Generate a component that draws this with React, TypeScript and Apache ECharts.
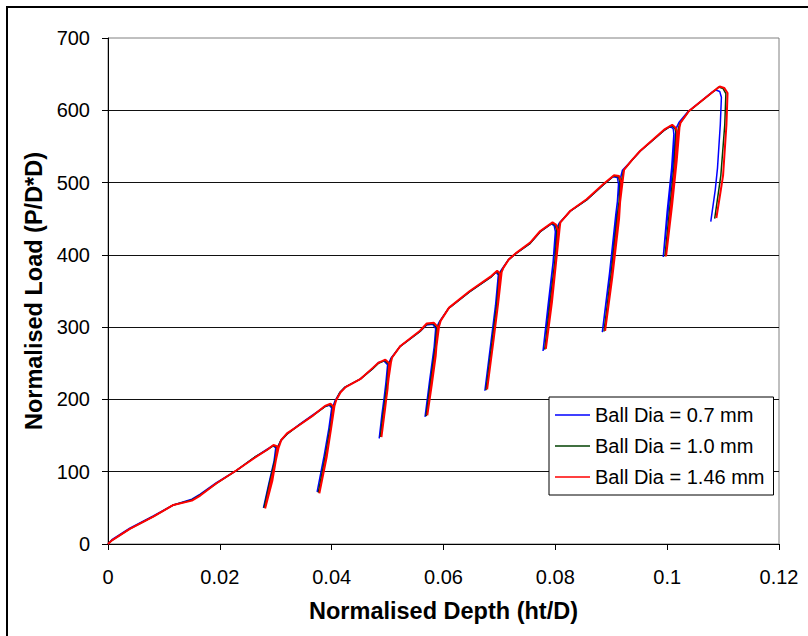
import React, { useEffect, useRef } from "react";
import * as echarts from "echarts";

// Normalised depth (ht/D) vs normalised load (P/D*D) for three ball diameters,
// with repeated partial unloading / reloading cycles.
const ball07: number[][] = [
  [0, 0], [0.0007, 6], [0.0039, 22], [0.0081, 39], [0.0117, 54], [0.015, 62], [0.0165, 69], [0.0194, 85], [0.023, 102], [0.0262, 120], [0.0284, 131], [0.0295, 136], [0.03, 133],
  [0.0297, 115], [0.029, 88], [0.0278, 50],
  [0.0288, 85], [0.0297, 115], [0.0302, 132],
  [0.0309, 143], [0.032, 152], [0.0343, 166], [0.0367, 179], [0.0388, 190], [0.0396, 192], [0.04, 188],
  [0.0395, 160], [0.0386, 120], [0.0374, 72],
  [0.0385, 115], [0.0395, 160], [0.0402, 190],
  [0.0406, 198], [0.0415, 210], [0.0424, 217], [0.0451, 228], [0.0474, 243], [0.0484, 251], [0.0494, 253], [0.05, 248],
  [0.0496, 215], [0.049, 180], [0.0485, 146],
  [0.0492, 190], [0.0498, 230], [0.0502, 250],
  [0.0506, 257], [0.0522, 273], [0.0558, 294], [0.057, 303], [0.0581, 304], [0.0586, 298],
  [0.0582, 260], [0.0575, 220], [0.0567, 176],
  [0.0575, 225], [0.0582, 265], [0.0588, 300],
  [0.0593, 308], [0.0609, 326], [0.0647, 349], [0.0686, 370], [0.0694, 376], [0.0698, 372],
  [0.0693, 330], [0.0685, 280], [0.0674, 212],
  [0.0686, 285], [0.0694, 335], [0.07, 375],
  [0.0705, 381], [0.0716, 393], [0.0728, 401], [0.0755, 416], [0.0773, 432], [0.0793, 443], [0.0798, 440], [0.08, 432],
  [0.0796, 390], [0.0787, 330], [0.0778, 267],
  [0.0789, 335], [0.0797, 395], [0.0803, 438],
  [0.0807, 444], [0.0826, 460], [0.0856, 476], [0.0886, 497], [0.0903, 508], [0.0911, 507], [0.0913, 498],
  [0.0909, 450], [0.0897, 370], [0.0884, 293],
  [0.0897, 375], [0.0908, 455], [0.0916, 505],
  [0.092, 517], [0.0937, 531], [0.0951, 543], [0.0996, 573], [0.1006, 578], [0.1011, 574], [0.1012, 567],
  [0.1008, 520], [0.1, 460], [0.0993, 397],
  [0.1003, 470], [0.1011, 530], [0.1016, 575],
  [0.1021, 583], [0.1037, 598], [0.108, 625], [0.1087, 628], [0.1094, 626], [0.1097, 618],
  [0.1095, 580], [0.109, 520], [0.1086, 490], [0.1078, 446],
];

const ball10: number[][] = [
  [0, 0], [0.0007, 5], [0.0039, 21], [0.0081, 38], [0.0117, 54], [0.015, 61], [0.0165, 68], [0.0194, 84], [0.023, 102], [0.0262, 120], [0.0284, 130], [0.0296, 136], [0.0302, 134],
  [0.0299, 115], [0.0292, 88], [0.0279, 50],
  [0.0289, 85], [0.0298, 115], [0.0303, 132],
  [0.0309, 143], [0.032, 152], [0.0343, 165], [0.0367, 178], [0.0388, 190], [0.0397, 193], [0.0402, 189],
  [0.0398, 160], [0.0389, 120], [0.0376, 71],
  [0.0387, 115], [0.0397, 160], [0.0404, 190],
  [0.0407, 198], [0.0415, 210], [0.0424, 217], [0.0451, 228], [0.0474, 243], [0.0484, 250], [0.0495, 254], [0.0502, 249],
  [0.0498, 215], [0.0492, 180], [0.0487, 148],
  [0.0494, 190], [0.05, 230], [0.0504, 250],
  [0.0507, 257], [0.0522, 273], [0.0558, 294], [0.057, 304], [0.0582, 305], [0.0588, 299],
  [0.0584, 260], [0.0577, 220], [0.0569, 177],
  [0.0577, 225], [0.0584, 265], [0.059, 300],
  [0.0594, 308], [0.0609, 326], [0.0647, 349], [0.0686, 370], [0.0695, 377], [0.07, 373],
  [0.0695, 330], [0.0687, 280], [0.0676, 213],
  [0.0688, 285], [0.0696, 335], [0.0702, 375],
  [0.0706, 381], [0.0716, 393], [0.0728, 401], [0.0755, 416], [0.0773, 432], [0.0794, 444], [0.08, 441], [0.0803, 432],
  [0.0799, 390], [0.079, 330], [0.0781, 269],
  [0.0792, 335], [0.08, 395], [0.0806, 438],
  [0.0808, 444], [0.0826, 460], [0.0856, 476], [0.0886, 497], [0.0904, 509], [0.0913, 508], [0.0916, 499],
  [0.0912, 450], [0.09, 370], [0.0887, 294],
  [0.09, 375], [0.0911, 455], [0.0919, 505],
  [0.0922, 517], [0.0937, 531], [0.0951, 543], [0.0996, 573], [0.1008, 579], [0.1014, 575], [0.1016, 569],
  [0.1012, 520], [0.1004, 460], [0.0996, 398],
  [0.1007, 470], [0.1015, 530], [0.102, 575],
  [0.1023, 582], [0.1038, 598], [0.1083, 626], [0.1092, 632], [0.11, 630], [0.1105, 623],
  [0.1103, 580], [0.1096, 510], [0.1085, 450],
];

const ball146: number[][] = [
  [0, 0], [0.0007, 5], [0.0039, 21], [0.0081, 38], [0.0117, 54], [0.015, 60], [0.0165, 67], [0.0194, 84], [0.023, 102], [0.0262, 119], [0.0284, 130], [0.0296, 137], [0.0303, 135],
  [0.03, 115], [0.0294, 88], [0.0281, 49],
  [0.0291, 85], [0.03, 115], [0.0305, 133],
  [0.031, 144], [0.032, 153], [0.0343, 165], [0.0367, 178], [0.0388, 191], [0.0398, 194], [0.0403, 190],
  [0.0399, 160], [0.0391, 120], [0.0378, 70],
  [0.0389, 115], [0.0399, 160], [0.0405, 191],
  [0.0408, 199], [0.0416, 210], [0.0425, 217], [0.0451, 228], [0.0474, 244], [0.0484, 251], [0.0496, 255], [0.0503, 250],
  [0.05, 215], [0.0494, 180], [0.0489, 148],
  [0.0496, 190], [0.0502, 230], [0.0506, 251],
  [0.0508, 258], [0.0523, 274], [0.0558, 295], [0.057, 305], [0.0583, 306], [0.059, 300],
  [0.0586, 260], [0.0579, 220], [0.0571, 178],
  [0.0579, 225], [0.0586, 265], [0.0592, 301],
  [0.0595, 309], [0.061, 327], [0.0647, 350], [0.0686, 371], [0.0696, 378], [0.0701, 374],
  [0.0697, 330], [0.0689, 280], [0.0678, 214],
  [0.069, 285], [0.0698, 335], [0.0704, 376],
  [0.0707, 382], [0.0717, 394], [0.0729, 402], [0.0755, 417], [0.0773, 433], [0.0795, 445], [0.0801, 442], [0.0805, 433],
  [0.0801, 390], [0.0792, 330], [0.0783, 270],
  [0.0794, 335], [0.0802, 395], [0.0808, 439],
  [0.0809, 445], [0.0827, 461], [0.0856, 477], [0.0886, 498], [0.0905, 510], [0.0914, 509], [0.0918, 500],
  [0.0914, 450], [0.0902, 370], [0.0889, 295],
  [0.0902, 375], [0.0913, 455], [0.0921, 506],
  [0.0923, 518], [0.0938, 532], [0.0952, 544], [0.0996, 574], [0.1009, 580], [0.1015, 576], [0.1018, 570],
  [0.1014, 520], [0.1006, 460], [0.0998, 398],
  [0.1009, 470], [0.1017, 530], [0.1022, 576],
  [0.1024, 583], [0.1039, 599], [0.1084, 627], [0.1094, 633], [0.1102, 631], [0.1108, 624],
  [0.1106, 580], [0.11, 510], [0.1096, 490], [0.1088, 451],
];

const seriesNames = ["Ball Dia = 0.7 mm", "Ball Dia = 1.0 mm", "Ball Dia = 1.46 mm"];
const seriesColors = ["#0000ff", "#004000", "#ff0000"];
const xTickLabels = ["0", "0.02", "0.04", "0.06", "0.08", "0.1", "0.12"];
const yTickLabels = ["0", "100", "200", "300", "400", "500", "600", "700"];

const FONT = "'Liberation Sans', Arial, sans-serif";

export default function App() {
  const ref = useRef<HTMLDivElement>(null);

  useEffect(() => {
    if (!ref.current) return;
    const chart = echarts.init(ref.current, undefined, { renderer: "svg" });
    const data = [ball07, ball10, ball146];
    chart.setOption({
      animation: false,
      backgroundColor: "#ffffff",
      textStyle: { fontFamily: FONT },
      graphic: [
        {
          type: "rect",
          shape: { x: 7, y: 7, width: 900, height: 700 },
          style: { fill: "none", stroke: "#000", lineWidth: 2 },
          silent: true,
          z: 100,
        },
      ],
      grid: {
        left: 108,
        right: 29,
        top: 38,
        bottom: 92,
        show: true,
        borderColor: "#808080",
        borderWidth: 1,
        backgroundColor: "transparent",
      },
      legend: {
        orient: "vertical",
        left: 549,
        top: 397,
        data: seriesNames,
        icon: "rect",
        backgroundColor: "#ffffff",
        borderColor: "#000",
        borderWidth: 1,
        borderRadius: 0,
        padding: [8, 9, 8, 6],
        itemWidth: 35,
        itemHeight: 1.5,
        itemGap: 11,
        textStyle: { fontFamily: FONT, fontSize: 20, color: "#000" },
      },
      xAxis: {
        type: "value",
        min: 0,
        max: 0.12,
        interval: 0.02,
        name: "Normalised Depth (ht/D)",
        nameLocation: "middle",
        nameGap: 55,
        nameTextStyle: { fontFamily: FONT, fontSize: 23.5, fontWeight: "bold", color: "#000" },
        axisLine: { show: true, onZero: false, lineStyle: { color: "#000", width: 1 } },
        axisTick: { show: true, inside: false, length: 6, lineStyle: { color: "#000" } },
        axisLabel: {
          margin: 23,
          fontFamily: FONT,
          fontSize: 20,
          color: "#000",
          formatter: (_v: number, i: number) => xTickLabels[i],
        },
        splitLine: { show: false },
      },
      yAxis: {
        type: "value",
        min: 0,
        max: 700,
        interval: 100,
        name: "Normalised Load (P/D*D)",
        nameLocation: "middle",
        nameGap: 61,
        nameTextStyle: { fontFamily: FONT, fontSize: 23.5, fontWeight: "bold", color: "#000" },
        axisLine: { show: true, onZero: false, lineStyle: { color: "#000", width: 1 } },
        axisTick: { show: true, inside: false, length: 6, lineStyle: { color: "#000" } },
        axisLabel: {
          margin: 18,
          fontFamily: FONT,
          fontSize: 20,
          color: "#000",
          formatter: (_v: number, i: number) => yTickLabels[i],
        },
        splitLine: {
          show: true,
          showMinLine: false,
          showMaxLine: false,
          lineStyle: { color: "#111", width: 1 },
        },
      },
      series: data.map((d, i) => ({
        name: seriesNames[i],
        type: "line",
        data: d,
        symbol: "none",
        showSymbol: false,
        smooth: false,
        lineStyle: { color: seriesColors[i], width: i === 2 ? 2 : 1.5 },
        itemStyle: { color: seriesColors[i] },
        z: 2 + i,
      })),
    });
    return () => chart.dispose();
  }, []);

  return (
    <div
      ref={ref}
      style={{ position: "fixed", left: 0, top: 0, width: 808, height: 636 }}
    />
  );
}
